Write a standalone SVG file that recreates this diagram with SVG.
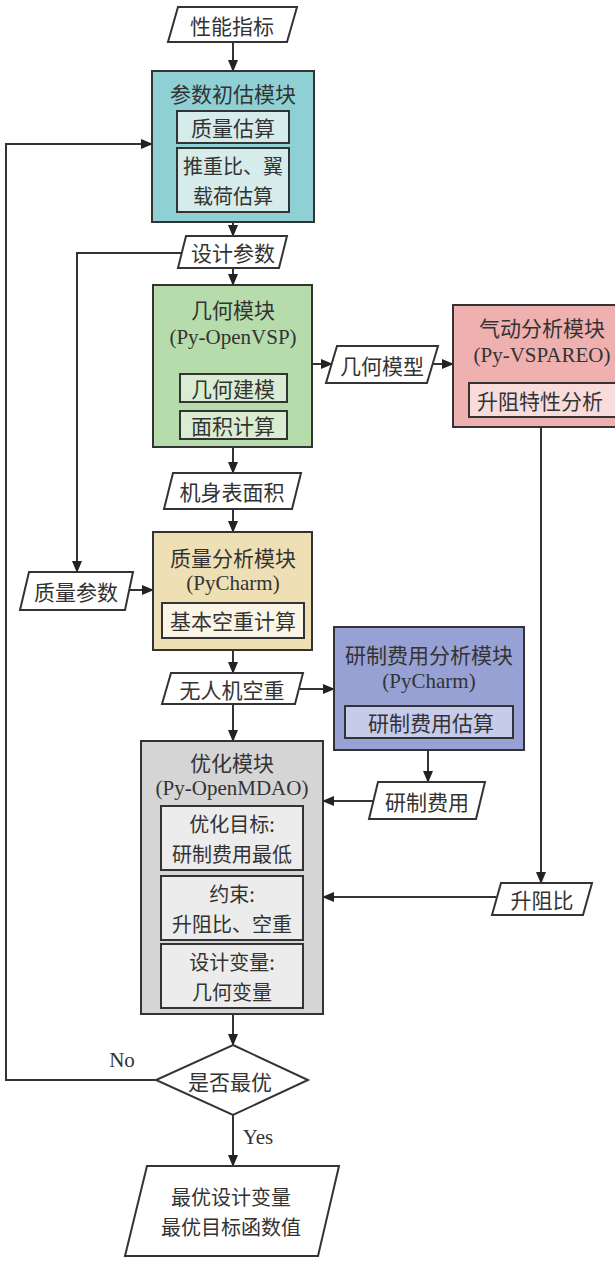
<svg xmlns="http://www.w3.org/2000/svg" width="615" height="1263" viewBox="0 0 615 1263">
<defs>
<marker id="ah" markerWidth="12" markerHeight="10" refX="11" refY="5" orient="auto" markerUnits="userSpaceOnUse">
<path d="M0,0 L12,5 L0,10 Z" fill="#222"/>
</marker>
<style>
.t{font-family:"Noto Sans CJK SC","Liberation Serif",sans-serif;font-size:21px;fill:#333;text-anchor:middle;dominant-baseline:central}
.t2{font-family:"Noto Sans CJK SC","Liberation Serif",sans-serif;font-size:20px;fill:#333;text-anchor:middle;dominant-baseline:central}
.e{font-family:"Liberation Serif",serif;font-size:21px;fill:#333;text-anchor:middle;dominant-baseline:central}
.box{stroke:#333;stroke-width:2}
.io{fill:#fff;stroke:#333;stroke-width:2}
.ca{fill:none;stroke:#333;stroke-width:2;marker-end:url(#ah)}
</style>
</defs>
<rect width="615" height="1263" fill="#fff"/>

<g id="connectors">
<path class="ca" d="M233,42 V71"/>
<path class="ca" d="M233,222 V236"/>
<path class="ca" d="M233,268 V285"/>
<path class="ca" d="M182,253 H77 V572"/>
<path class="ca" d="M312,364 H332"/>
<path class="ca" d="M432,364 H453"/>
<path class="ca" d="M233,447 V473"/>
<path class="ca" d="M233,509 V532"/>
<path class="ca" d="M128,590 H153"/>
<path class="ca" d="M233,650 V673"/>
<path class="ca" d="M300,689 H334"/>
<path class="ca" d="M233,704 V741"/>
<path class="ca" d="M428,750 V782"/>
<path class="ca" d="M373,801 H323"/>
<path class="ca" d="M541,427 V883"/>
<path class="ca" d="M496,897 H323"/>
<path class="ca" d="M233,1014 V1045"/>
<path class="ca" d="M156,1080 H6 V144 H152"/>
<path class="ca" d="M233,1115 V1166"/>
<text class="e" x="122" y="1060">No</text>
<text class="e" x="258" y="1137">Yes</text>
</g>

<g id="n_perf">
<polygon class="io" points="178,7 297,7 287,42 168,42"/>
<text class="t" x="232" y="25">性能指标</text>
</g>

<g id="n_init">
<rect class="box" x="152" y="71" width="162" height="151" fill="#8fd0d4"/>
<text class="t" x="233" y="93">参数初估模块</text>
<rect class="box" x="177" y="111" width="112" height="32" fill="#d6ecea"/>
<text class="t" x="233" y="127">质量估算</text>
<rect class="box" x="177" y="148" width="112" height="64" fill="#d6ecea"/>
<text class="t2" x="233" y="165">推重比、翼<tspan x="233" dy="30">载荷估算</tspan></text>
</g>

<g id="n_design">
<polygon class="io" points="186,236 287,236 279,268 178,268"/>
<text class="t" x="233" y="252">设计参数</text>
</g>

<g id="n_geom">
<rect class="box" x="153" y="285" width="159" height="162" fill="#b6dcab"/>
<text class="t" x="233" y="309">几何模块</text>
<text class="e" x="233" y="337">(Py-OpenVSP)</text>
<rect class="box" x="180" y="374" width="107" height="28" fill="#d9edd2"/>
<text class="t" x="233" y="388">几何建模</text>
<rect class="box" x="180" y="411" width="107" height="28" fill="#d9edd2"/>
<text class="t" x="233" y="425">面积计算</text>
</g>

<g id="n_geommodel">
<polygon class="io" points="337,346 438,346 427,383 326,383"/>
<text class="t" x="382" y="365">几何模型</text>
</g>

<g id="n_aero">
<rect class="box" x="453" y="305" width="180" height="122" fill="#efb0b0"/>
<text class="t" x="542" y="327">气动分析模块</text>
<text class="e" x="542" y="355">(Py-VSPAREO)</text>
<rect class="box" x="469" y="383" width="164" height="34" fill="#f8dcdc"/>
<text class="t" x="540" y="400">升阻特性分析</text>
</g>

<g id="n_surface">
<polygon class="io" points="173,473 301,473 292,509 164,509"/>
<text class="t" x="232" y="491">机身表面积</text>
</g>

<g id="n_massparam">
<polygon class="io" points="29,572 133,572 125,610 20,610"/>
<text class="t" x="76" y="591">质量参数</text>
</g>

<g id="n_mass">
<rect class="box" x="153" y="532" width="159" height="118" fill="#efdfb4"/>
<text class="t" x="233" y="557">质量分析模块</text>
<text class="e" x="233" y="583">(PyCharm)</text>
<rect class="box" x="162" y="603" width="142" height="35" fill="#faf5e4"/>
<text class="t" x="233" y="620">基本空重计算</text>
</g>

<g id="n_empty">
<polygon class="io" points="171,673 303,673 295,704 162,704"/>
<text class="t" x="232" y="689">无人机空重</text>
</g>

<g id="n_costmod">
<rect class="box" x="334" y="627" width="190" height="123" fill="#98a1d3"/>
<text class="t" x="429" y="654">研制费用分析模块</text>
<text class="e" x="429" y="681">(PyCharm)</text>
<rect class="box" x="345" y="706" width="168" height="32" fill="#c6cbea"/>
<text class="t" x="431" y="722">研制费用估算</text>
</g>

<g id="n_cost">
<polygon class="io" points="378,782 485,782 476,819 369,819"/>
<text class="t" x="427" y="801">研制费用</text>
</g>

<g id="n_ld">
<polygon class="io" points="501,883 592,883 583,915 492,915"/>
<text class="t" x="542" y="899">升阻比</text>
</g>

<g id="n_opt">
<rect class="box" x="141" y="741" width="182" height="273" fill="#d5d5d5"/>
<text class="t" x="232" y="762">优化模块</text>
<text class="e" x="232" y="788">(Py-OpenMDAO)</text>
<rect class="box" x="161" y="806" width="142" height="64" fill="#ececec"/>
<text class="t2" x="232" y="823">优化目标:<tspan x="232" dy="30">研制费用最低</tspan></text>
<rect class="box" x="161" y="876" width="142" height="64" fill="#ececec"/>
<text class="t2" x="232" y="893">约束:<tspan x="232" dy="30">升阻比、空重</tspan></text>
<rect class="box" x="161" y="944" width="142" height="64" fill="#ececec"/>
<text class="t2" x="232" y="961">设计变量:<tspan x="232" dy="30">几何变量</tspan></text>
</g>

<g id="n_decision">
<polygon class="io" points="233,1045 308,1080 233,1115 156,1080"/>
<text class="t" x="230" y="1081">是否最优</text>
</g>

<g id="n_result">
<polygon class="io" points="147,1166 339,1166 318,1256 125,1256"/>
<text class="t2" x="231" y="1196">最优设计变量<tspan x="231" dy="30">最优目标函数值</tspan></text>
</g>
</svg>
